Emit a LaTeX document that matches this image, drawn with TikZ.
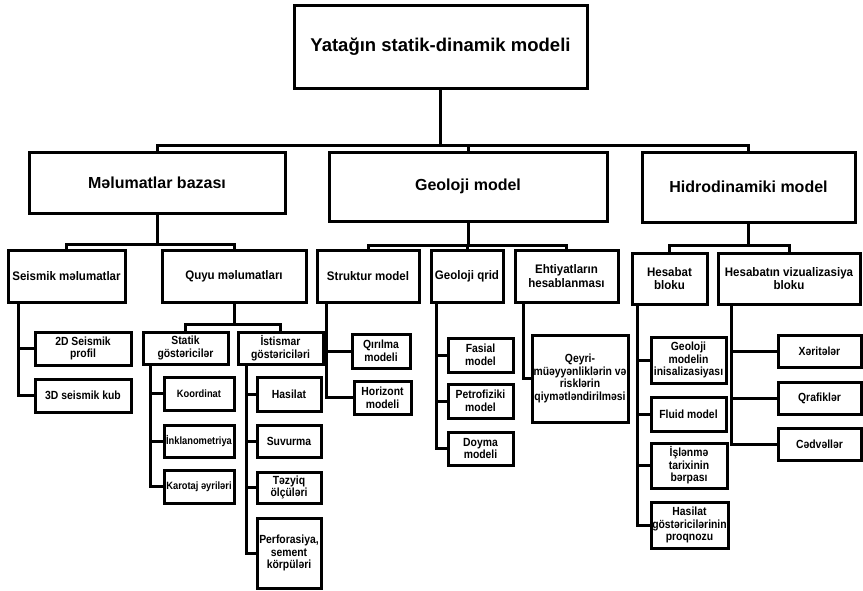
\documentclass[tikz,border=0pt]{standalone}
\usepackage{fontspec}
\setmainfont{Liberation Sans}
\newfontfamily\midfont{Liberation Sans}[FakeStretch=0.93]
\newfontfamily\leaffont{Liberation Sans}[FakeStretch=0.88]
\begin{document}
\begin{tikzpicture}[x=1pt,y=-1pt,
  box/.style={draw=black, line width=3pt, inner sep=0pt, align=center, fill=white},
  t1/.style={box, font=\fontsize{18.5}{22}\selectfont\bfseries},
  t2/.style={box, font=\fontsize{16}{19}\selectfont\bfseries},
  t3/.style={box, font=\midfont\fontsize{12.4}{13.8}\selectfont\bfseries},
  lf/.style={box, font=\leaffont\fontsize{11.8}{12.6}\selectfont\bfseries},
  lfs/.style={box, font=\leaffont\fontsize{10.6}{12}\selectfont\bfseries},
  conn/.style={line width=3pt, line join=miter}
]
\useasboundingbox[fill=white] (0,0) rectangle (863,590);

% level 1
\node[t1, minimum width=293pt, minimum height=83pt] (top) at (440.5,46.5) {Yatağın statik-dinamik modeli};

% level 2
\node[t2, minimum width=256pt, minimum height=61pt] (mel) at (157,182.5) {Məlumatlar bazası};
\node[t2, minimum width=278pt, minimum height=69pt] (geo) at (468,186.5) {Geoloji model};
\node[t2, minimum width=213pt, minimum height=70pt] (hid) at (748.5,187) {Hidrodinamiki model};

% level 3
\node[t3, minimum width=117pt, minimum height=52pt] (seis) at (66.5,276) {Seismik məlumatlar};
\node[t3, minimum width=144pt, minimum height=52pt] (quyu) at (234,276) {Quyu məlumatları};
\node[t3, minimum width=102pt, minimum height=52pt] (str) at (368,276) {Struktur model};
\node[t3, minimum width=72pt, minimum height=52pt] (qrid) at (467,276) {Geoloji qrid};
\node[t3, minimum width=103pt, minimum height=52pt] (eht) at (566.5,276) {Ehtiyatların\\hesablanması};
\node[t3, minimum width=75pt, minimum height=51pt] (hsb) at (669.5,278.5) {Hesabat\\bloku};
\node[t3, minimum width=142pt, minimum height=51pt] (viz) at (789,278.5) {Hesabatın vizualizasiya\\bloku};

% seismic children
\node[lf, minimum width=96pt, minimum height=33pt] (s2d) at (83,348.5) {2D Seismik\\profil};
\node[lf, minimum width=96pt, minimum height=33pt] (s3d) at (83,395.5) {3D seismik kub};

% quyu children
\node[lf, minimum width=85pt, minimum height=32pt] (stat) at (185.5,348) {Statik\\göstəricilər};
\node[lf, minimum width=85pt, minimum height=32pt] (ist) at (280.5,348) {İstismar\\göstəriciləri};

\node[lfs, minimum width=70pt, minimum height=33pt] (koor) at (199,393.5) {Koordinat};
\node[lfs, minimum width=70pt, minimum height=32pt] (inkl) at (199,441) {İnklanometriya};
\node[lfs, minimum width=70pt, minimum height=33pt] (kar) at (199,486.5) {Karotaj əyriləri};

\node[lf, minimum width=64pt, minimum height=34pt] (has) at (289,394) {Hasilat};
\node[lf, minimum width=64pt, minimum height=32pt] (suv) at (289,441) {Suvurma};
\node[lf, minimum width=64pt, minimum height=31pt] (tez) at (289,487.5) {Təzyiq\\ölçüləri};
\node[lf, minimum width=64pt, minimum height=70pt] (perf) at (289,553) {Perforasiya,\\sement\\körpüləri};

% struktur children
\node[lf, minimum width=58pt, minimum height=34pt] (qir) at (381,351) {Qırılma\\modeli};
\node[lf, minimum width=57pt, minimum height=33pt] (hor) at (382.5,397.5) {Horizont\\modeli};

% qrid children
\node[lf, minimum width=65pt, minimum height=34pt] (fas) at (480.5,355) {Fasial\\model};
\node[lf, minimum width=65pt, minimum height=34pt] (pet) at (480.5,401) {Petrofiziki\\model};
\node[lf, minimum width=65pt, minimum height=33pt] (doy) at (480.5,448.5) {Doyma\\modeli};

% ehtiyat child
\node[lf, minimum width=96pt, minimum height=87pt] (qey) at (580,378.5) {Qeyri-\\müəyyənliklərin və\\risklərin\\qiymətləndirilməsi};

% hesabat bloku children
\node[lf, minimum width=75pt, minimum height=46pt] (gmi) at (688.5,360) {Geoloji\\modelin\\inisalizasiyası};
\node[lf, minimum width=75pt, minimum height=34pt] (flu) at (688.5,414) {Fluid model};
\node[lf, minimum width=76pt, minimum height=45pt] (isl) at (689,465.5) {İşlənmə\\tarixinin\\bərpası};
\node[lf, minimum width=77pt, minimum height=46pt] (hgp) at (689.5,525) {Hasilat\\göstəricilərinin\\proqnozu};

% viz children
\node[lf, minimum width=83pt, minimum height=32pt] (xer) at (819.5,351) {Xəritələr};
\node[lf, minimum width=83pt, minimum height=32pt] (qra) at (819.5,398) {Qrafiklər};
\node[lf, minimum width=83pt, minimum height=32pt] (ced) at (819.5,444) {Cədvəllər};

% buses
\coordinate (b0) at (440.5,145);
\coordinate (bm) at (157,244);
\coordinate (bg) at (468,245);
\coordinate (bh) at (748.5,245);
\coordinate (bq) at (234,324);

\draw[conn] (top.south) -- (b0);
\draw[conn] (mel.north) |- (b0) -| (hid.north);
\draw[conn] (geo.north) -- (geo.north |- b0);

\draw[conn] (mel.south) -- (bm);
\draw[conn] (seis.north) |- (bm) -| (quyu.north);

\draw[conn] (geo.south) -- (bg);
\draw[conn] (str.north) |- (bg) -| (eht.north);
\draw[conn] (qrid.north) -- (qrid.north |- bg);

\draw[conn] (hid.south) -- (bh);
\draw[conn] (hsb.north) |- (bh) -| (viz.north);

\draw[conn] (quyu.south) -- (bq);
\draw[conn] (stat.north) |- (bq) -| (ist.north);

% side trunks
\draw[conn] ([xshift=12pt]seis.south west) |- (s3d.west);
\draw[conn] ([xshift=12pt]seis.south west) |- (s2d.west);

\draw[conn] ([xshift=9pt]stat.south west) |- (kar.west);
\draw[conn] ([xshift=9pt]stat.south west) |- (inkl.west);
\draw[conn] ([xshift=9pt]stat.south west) |- (koor.west);

\draw[conn] ([xshift=10pt]ist.south west) |- (perf.west);
\draw[conn] ([xshift=10pt]ist.south west) |- (tez.west);
\draw[conn] ([xshift=10pt]ist.south west) |- (suv.west);
\draw[conn] ([xshift=10pt]ist.south west) |- (has.west);

\draw[conn] ([xshift=11pt]str.south west) |- (hor.west);
\draw[conn] ([xshift=11pt]str.south west) |- (qir.west);

\draw[conn] ([xshift=7pt]qrid.south west) |- (doy.west);
\draw[conn] ([xshift=7pt]qrid.south west) |- (pet.west);
\draw[conn] ([xshift=7pt]qrid.south west) |- (fas.west);

\draw[conn] ([xshift=10pt]eht.south west) |- (qey.west);

\draw[conn] ([xshift=7pt]hsb.south west) |- (hgp.west);
\draw[conn] ([xshift=7pt]hsb.south west) |- (isl.west);
\draw[conn] ([xshift=7pt]hsb.south west) |- (flu.west);
\draw[conn] ([xshift=7pt]hsb.south west) |- (gmi.west);

\draw[conn] ([xshift=15pt]viz.south west) |- (ced.west);
\draw[conn] ([xshift=15pt]viz.south west) |- (qra.west);
\draw[conn] ([xshift=15pt]viz.south west) |- (xer.west);
\end{tikzpicture}
\end{document}
